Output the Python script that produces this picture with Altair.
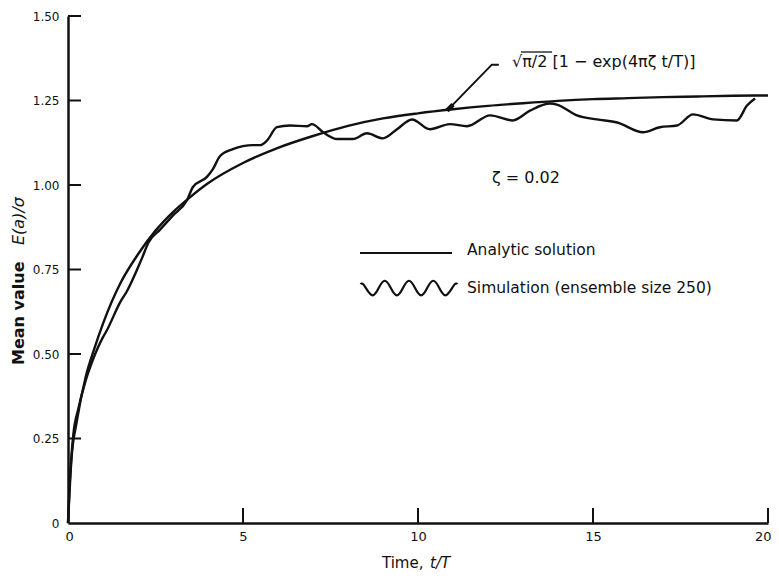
import altair as alt
import pandas as pd

# ---- data ----
analytic_t = [0, 0.1, 0.25, 0.5, 0.75, 1, 1.5, 2, 2.5, 3, 3.5, 4, 5, 6, 7, 8, 9, 10,
              11, 12, 13, 14, 15, 16, 17, 18, 19, 20]
analytic_v = [0, 0.19, 0.30, 0.43, 0.515, 0.59, 0.71, 0.795, 0.865, 0.92, 0.965, 1.005,
              1.065, 1.11, 1.145, 1.175, 1.197, 1.212, 1.224, 1.234, 1.242, 1.249,
              1.254, 1.257, 1.26, 1.262, 1.264, 1.265]

sim_t = [0, 0.05, 0.1, 0.15, 0.3, 0.5, 0.7, 1.0, 1.1, 1.5, 1.68, 2.1, 2.3, 2.63, 3.0,
         3.4, 3.57, 3.97, 4.14, 4.34, 4.71, 5.29, 5.49, 5.69, 5.97, 6.34, 6.83, 6.97,
         7.29, 7.69, 8.14, 8.54, 9.0, 9.4, 9.83, 10.34, 10.91, 11.4, 12.06, 12.71,
         13.2, 13.77, 13.97, 14.54, 15.11, 15.69, 16.43, 16.91, 17.4, 17.86, 18.43,
         19.11, 19.4, 19.63]
sim_v = [0, 0.12, 0.2, 0.26, 0.34, 0.42, 0.48, 0.55, 0.568, 0.655, 0.685, 0.78, 0.83,
         0.868, 0.91, 0.955, 0.994, 1.024, 1.047, 1.085, 1.106, 1.118, 1.118, 1.132,
         1.171, 1.176, 1.174, 1.18, 1.156, 1.136, 1.136, 1.153, 1.138, 1.165, 1.194,
         1.165, 1.18, 1.174, 1.206, 1.191, 1.22, 1.241, 1.238, 1.206, 1.194, 1.185,
         1.156, 1.171, 1.176, 1.209, 1.194, 1.191, 1.235, 1.256]

x_ticks = [0, 5, 10, 15, 20]
y_ticks = [0, 0.25, 0.5, 0.75, 1.0, 1.25, 1.5]

leader_t = [10.83, 12.11, 12.31]
leader_v = [1.22, 1.356, 1.356]
wedge_t = [10.83, 11.0]
wedge_v = [1.22, 1.238]

formula_label = "\u221a\u03c0/2 [1 \u2212 exp(4\u03c0\u03b6 t/T)]"
zeta_label = "\u03b6 = 0.02"
legend_labels = ["Analytic solution", "Simulation (ensemble size 250)"]
y_title_parts = ["Mean value", "E(a)/\u03c3"]
x_title_parts = ["Time,", "t/T"]

# ---- chart ----
W, H = 700, 507
FONT = "DejaVu Sans"
INK = "#111111"

xs = alt.Scale(domain=[0, 20], nice=False)
ys = alt.Scale(domain=[0, 1.5], nice=False)

analytic_df = pd.DataFrame({"t": analytic_t, "v": analytic_v})
sim_df = pd.DataFrame({"t": sim_t, "v": sim_v})

x_axis = alt.Axis(values=x_ticks, format="d", title=None, ticks=False, grid=False,
                  domainColor=INK, domainWidth=2.5, labelFont=FONT, labelFontSize=13,
                  labelColor=INK, labelPadding=7, labelFlush=1, labelFlushOffset=3,
                  labelOverlap=False)
y_axis = alt.Axis(values=y_ticks, title=None, ticks=False, grid=False,
                  labelExpr="datum.value == 0 ? '0' : format(datum.value, '.2f')",
                  domainColor=INK, domainWidth=2.5, labelFont=FONT, labelFontSize=12,
                  labelColor=INK, labelPadding=9, labelFlush=False, labelOverlap=False)

analytic = alt.Chart(analytic_df).mark_line(color=INK, strokeWidth=2.4,
                                            interpolate="monotone").encode(
    x=alt.X("t:Q", scale=xs, axis=x_axis),
    y=alt.Y("v:Q", scale=ys, axis=y_axis),
)
sim = alt.Chart(sim_df).mark_line(color=INK, strokeWidth=2.4,
                                  interpolate="monotone").encode(
    x=alt.X("t:Q", scale=xs),
    y=alt.Y("v:Q", scale=ys),
)

xt = alt.Chart(pd.DataFrame({"t": x_ticks[1:]})).mark_rule(color=INK, strokeWidth=2).encode(
    x=alt.X("t:Q", scale=xs), y=alt.value(H), y2=alt.value(H - 15))
yt = alt.Chart(pd.DataFrame({"v": y_ticks[1:]})).mark_rule(color=INK, strokeWidth=2).encode(
    y=alt.Y("v:Q", scale=ys), x=alt.value(0), x2=alt.value(13))

leader = alt.Chart(pd.DataFrame({"t": leader_t, "v": leader_v, "o": [0, 1, 2]})).mark_line(
    color=INK, strokeWidth=2).encode(
    x=alt.X("t:Q", scale=xs), y=alt.Y("v:Q", scale=ys), order="o:Q")
wedge = alt.Chart(pd.DataFrame({"t": wedge_t, "v": wedge_v})).mark_line(
    color=INK, strokeWidth=4.5).encode(
    x=alt.X("t:Q", scale=xs), y=alt.Y("v:Q", scale=ys))


def txt(label, x, y, size=15, style="normal", weight="normal", angle=0, align="left"):
    return alt.Chart(pd.DataFrame({"a": [0]})).mark_text(
        text=label, font=FONT, fontSize=size, fontStyle=style, fontWeight=weight,
        color=INK, align=align, baseline="middle", angle=angle).encode(
        x=alt.value(x), y=alt.value(y))


def hrule(x1, x2, y, width=2):
    return alt.Chart(pd.DataFrame({"a": [0]})).mark_rule(color=INK, strokeWidth=width).encode(
        x=alt.value(x1), x2=alt.value(x2), y=alt.value(y))


formula = txt(formula_label, 444, 46, size=16)
overline = hrule(453, 484, 36, 1.3)
zeta = txt(zeta_label, 424, 162, size=16)
leg1 = txt(legend_labels[0], 399, 234, size=15.5)
leg2 = txt(legend_labels[1], 399, 272, size=15.5)
legline = hrule(292, 384, 237)
wave_path = ("M-1,-0.08 C-0.93,-0.16 -0.85,0.15 -0.75,0.15 C-0.65,0.15 -0.6,-0.15 -0.5,-0.15 "
             "C-0.4,-0.15 -0.35,0.15 -0.25,0.15 C-0.15,0.15 -0.1,-0.15 0,-0.15 "
             "C0.1,-0.15 0.15,0.15 0.25,0.15 C0.35,0.15 0.4,-0.15 0.5,-0.15 "
             "C0.6,-0.15 0.65,0.15 0.75,0.15 C0.85,0.15 0.93,-0.16 1,-0.08")
wave = alt.Chart(pd.DataFrame({"a": [0]})).mark_point(
    shape=wave_path, size=97 * 97, filled=False, color=INK, strokeWidth=2.2, opacity=1).encode(
    x=alt.value(341), y=alt.value(272))

ytitle1 = txt(y_title_parts[0], -49, 349, size=16, weight="bold", angle=270)
ytitle2 = txt(y_title_parts[1], -49, 229, size=16, style="italic", angle=270)
xtitle1 = txt(x_title_parts[0], 314, 547, size=15)
xtitle2 = txt(x_title_parts[1], 362, 547, size=15, style="italic")

chart = alt.layer(
    analytic, sim, xt, yt, leader, wedge, formula, overline, zeta, leg1, leg2, legline, wave,
    ytitle1, ytitle2, xtitle1, xtitle2,
).properties(
    width=W, height=H,
    autosize=alt.AutoSizeParams(type="none"),
    padding={"left": 60, "top": 8, "right": 3, "bottom": 48},
    background="white",
).configure_view(stroke=None)

chart.save("out.html", embed_options={"renderer": "svg", "actions": False})
